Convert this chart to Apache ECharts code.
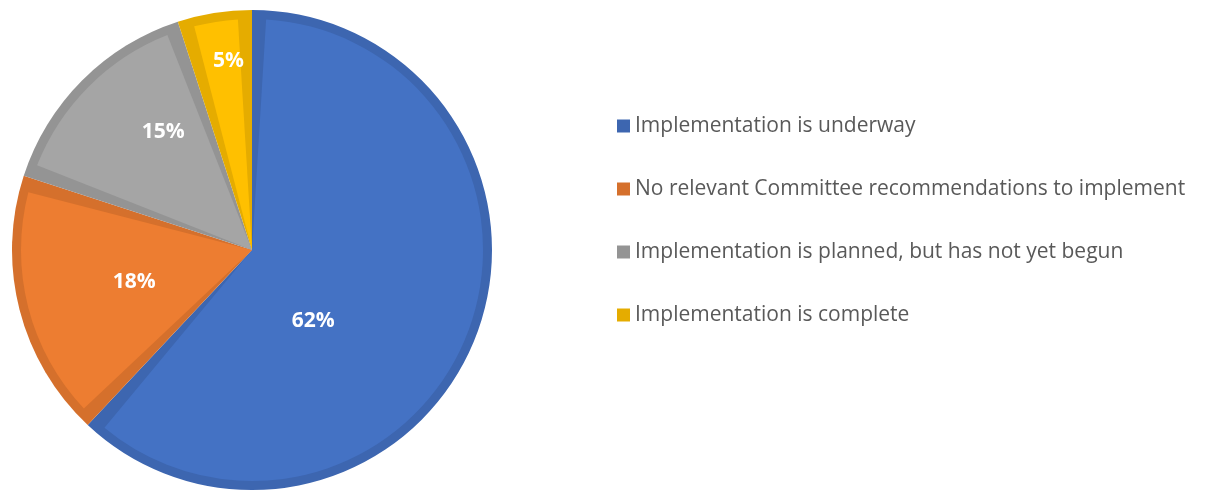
<!DOCTYPE html>
<html>
<head>
<meta charset="utf-8">
<script src="https://cdn.jsdelivr.net/npm/echarts@6/dist/echarts.min.js"></script>
<style>
  html, body { margin: 0; padding: 0; background: #fff; }
  #main { width: 1210px; height: 491px; }
</style>
</head>
<body>
<div id="main"></div>
<script>
const categories = [
  'Implementation is underway',
  'No relevant Committee recommendations to implement',
  'Implementation is planned, but has not yet begun',
  'Implementation is complete'
];
const shares = [62, 18, 15, 5];

const fillColors = ['#4472C4', '#ED7D31', '#A5A5A5', '#FFC000'];
const edgeColors = ['#3D66B0', '#D5702C', '#949494', '#E5AC00'];
// nudge labels to where Excel put them
const labelShift = [[-49, 27], [-3, 3], [-5, -34], [-5, -72]];

const font = '"Open Sans", sans-serif';

let option = {
  animation: false,
  color: fillColors,
  legend: {
    orient: 'vertical',
    left: 612,
    top: 110,
    itemWidth: 13,
    itemHeight: 13,
    itemGap: 41,
    icon: 'rect',
    data: categories,
    textStyle: {
      fontFamily: font,
      fontSize: 21,
      lineHeight: 22,
      color: '#595959'
    }
  },
  series: [
    {
      // darker rim
      type: 'pie',
      center: [252, 250],
      radius: 240,
      startAngle: 90,
      clockwise: true,
      silent: true,
      label: { show: false },
      labelLine: { show: false },
      data: categories.map((c, i) => ({
        name: c,
        value: shares[i],
        itemStyle: { color: edgeColors[i] }
      }))
    },
    {
      type: 'pie',
      center: [252, 250],
      radius: 231,
      startAngle: 90,
      clockwise: true,
      padAngle: 7,
      z: 3,
      label: {
        show: true,
        position: 'inside',
        formatter: '{d}%',
        color: '#fff',
        fontFamily: font,
        fontWeight: 'bold',
        fontSize: 21
      },
      labelLine: { show: false },
      data: categories.map((c, i) => ({
        name: c,
        value: shares[i],
        itemStyle: { color: fillColors[i] },
        label: { offset: labelShift[i] }
      }))
    }
  ]
};

let myChart = echarts.init(document.getElementById('main'));
myChart.setOption(option);
</script>
</body>
</html>
